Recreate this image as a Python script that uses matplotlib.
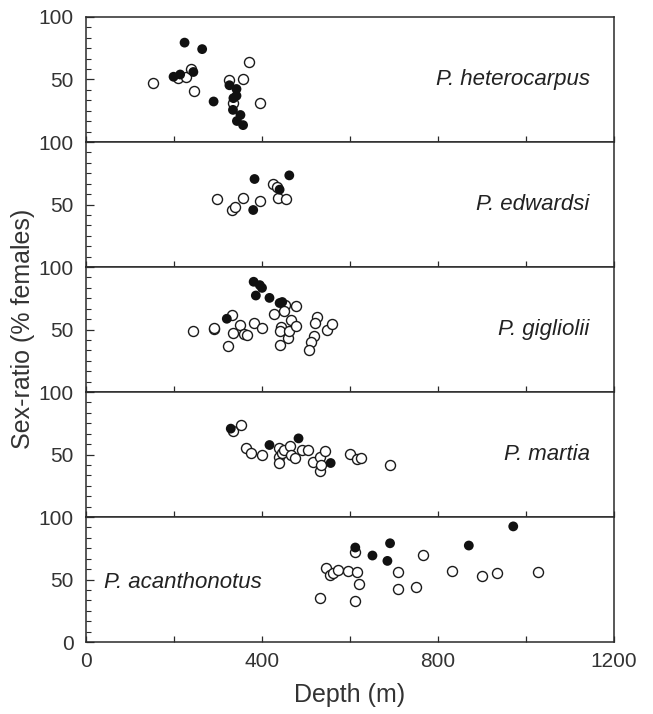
import matplotlib
matplotlib.use('Agg')
import matplotlib.pyplot as plt
from matplotlib.ticker import FixedLocator

plt.rcParams['font.family'] = ['Liberation Sans', 'DejaVu Sans']

# species, top to bottom
species = ['P. heterocarpus', 'P. edwardsi', 'P. gigliolii', 'P. martia', 'P. acanthonotus']

# filled circles (depth m, % females)
filled_depth = [
    [224, 264, 199, 214, 244, 290, 326, 342, 342, 335, 334, 351, 343, 357],
    [383, 462, 380, 440],
    [381, 395, 400, 386, 417, 440, 446, 320],
    [329, 417, 483, 556],
    [612, 651, 691, 685, 870, 971],
]
filled_ratio = [
    [79.5, 74.3, 52.2, 54, 56, 32.4, 45.4, 42.4, 37, 35.1, 25.7, 21.6, 16.8, 13.5],
    [70.4, 73.3, 45.6, 61.9],
    [88.2, 85.5, 83.3, 77.2, 75.3, 71.2, 72, 58.6],
    [70.7, 57.6, 62.9, 43.2],
    [75.6, 69.2, 79, 64.9, 77.2, 92.5],
]

# open circles (depth m, % females)
open_depth = [
    [153, 209, 227, 238, 245, 326, 357, 370, 333, 395],
    [298, 332, 338, 357, 395, 425, 437, 455, 433],
    [243, 290, 291, 332, 323, 335, 349, 358, 367, 381, 401, 428, 443, 440, 442,
     458, 461, 465, 478, 478, 453, 449, 524, 521, 518, 512, 506, 548, 558],
    [335, 353, 364, 376, 400, 438, 439, 439, 446, 451, 463, 465, 476, 491, 505,
     515, 531, 531, 535, 544, 600, 616, 626, 690],
    [532, 546, 555, 562, 573, 596, 616, 612, 620, 612, 710, 710, 750, 767, 831,
     901, 933, 1028],
]
open_ratio = [
    [47.3, 50.8, 51.9, 58.4, 41, 49.7, 50, 63.8, 30.8, 31.4],
    [54.7, 45.6, 48.3, 55.5, 52.8, 66.7, 55.5, 54.1, 64],
    [48.9, 50.3, 51, 61.3, 36.8, 47.6, 53.8, 46.2, 45.7, 55.6, 51.3, 62.4, 52.4, 48.9, 37.6,
     43, 48.9, 57.8, 53, 68.5, 69.9, 65, 59.9, 55.1, 45.2, 40.3, 33.6, 49.7, 54.3],
    [68.8, 73.3, 55.2, 51.5, 49.6, 54.9, 48.3, 43.5, 51.5, 53.6, 56.8, 49.3, 46.9, 53.3, 53.3,
     44, 48, 36.8, 41.6, 52.8, 50.7, 46.1, 47.2, 41.9],
    [35.4, 59, 53.6, 55, 57.4, 57.1, 56.3, 72.4, 46.1, 33, 56.3, 42.1, 44.2, 69.7, 56.8,
     52.5, 55, 56],
]

xticks = [0, 400, 800, 1200]
yticks = [0, 50, 100]

fig = plt.figure(figsize=(6.53, 7.14), dpi=100)
gs = fig.add_gridspec(5, 1, left=0.1317, right=0.9403, top=0.9762, bottom=0.1008, hspace=0)

ink = '#2a2a2a'
for i, name in enumerate(species):
    ax = fig.add_subplot(gs[i])
    ax.scatter(open_depth[i], open_ratio[i], s=52, facecolors='white',
               edgecolors='#1a1a1a', linewidths=1.0, zorder=2)
    ax.scatter(filled_depth[i], filled_ratio[i], s=50, color='#111111',
               edgecolors='none', zorder=3)
    ax.set_xlim(0, 1200)
    ax.set_ylim(0, 100)

    ax.xaxis.set_major_locator(FixedLocator(xticks))
    ax.xaxis.set_minor_locator(FixedLocator([200, 600, 1000]))
    ax.yaxis.set_major_locator(FixedLocator(yticks))
    ax.yaxis.set_minor_locator(FixedLocator([k * 100 / 12 for k in range(1, 12) if k != 6]))
    ax.tick_params(axis='x', which='both', direction='in', length=4, width=0.9,
                   color=ink, top=False)
    ax.tick_params(axis='y', which='major', direction='in', length=6, width=0.9,
                   color=ink, right=False, labelsize=15, labelcolor='#333333', pad=9)
    ax.tick_params(axis='y', which='minor', direction='in', length=3.5, width=0.8,
                   color=ink, right=False)
    if i < 4:
        ax.set_yticklabels(['', '50', '100'])
        ax.tick_params(axis='x', labelbottom=False)
    else:
        ax.set_yticklabels(['0', '50', '100'])
        ax.set_xticklabels([str(v) for v in xticks])
        ax.tick_params(axis='x', labelsize=15, labelcolor='#333333', pad=7)

    for sp in ax.spines.values():
        sp.set_linewidth(1.1)
        sp.set_color(ink)

    if i < 4:
        ax.text(1145, 50, name, ha='right', va='center', fontsize=16,
                style='italic', color='#222222')
    else:
        ax.text(42, 48, name, ha='left', va='center', fontsize=16,
                style='italic', color='#222222')

fig.text(0.035, 0.539, 'Sex-ratio (% females)', rotation=90, ha='center', va='center',
         fontsize=18, color='#333333')
fig.text(0.536, 0.027, 'Depth (m)', ha='center', va='center', fontsize=18, color='#333333')

fig.savefig('out.png', dpi=100)
